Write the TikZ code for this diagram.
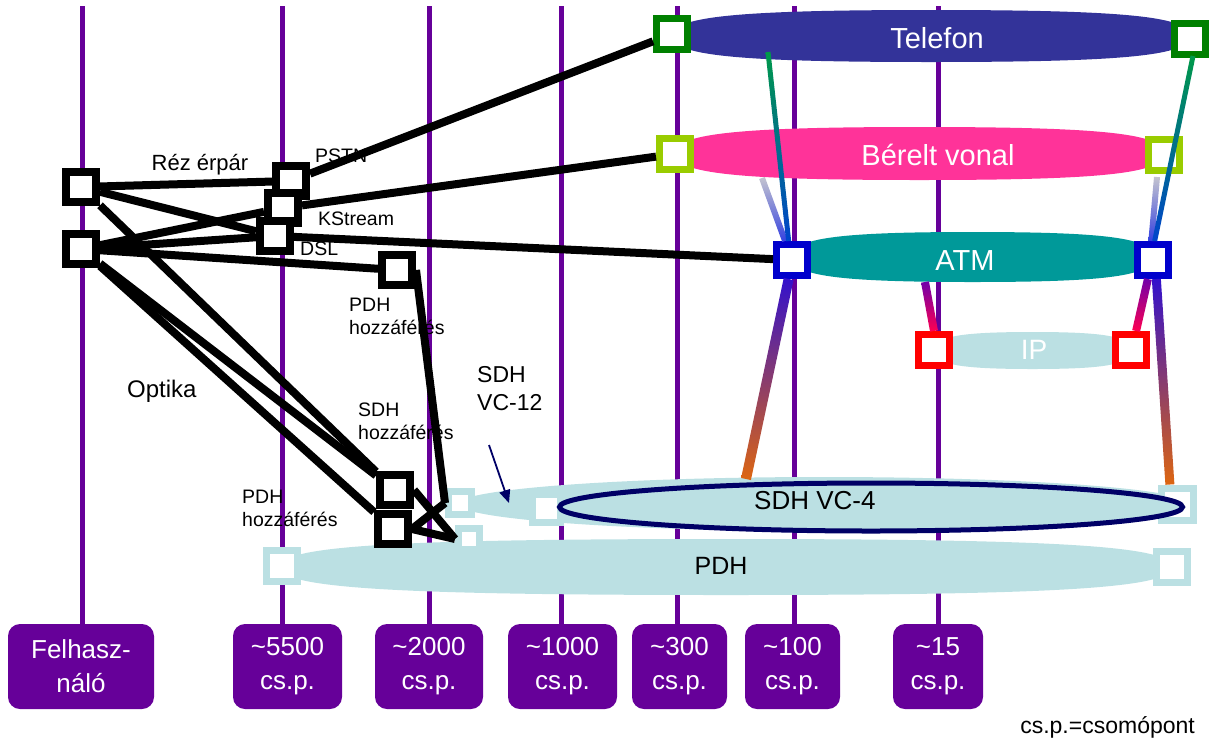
\documentclass[tikz,border=0pt]{standalone}
\usepackage{fontspec}
\setmainfont{Liberation Sans}
\usetikzlibrary{arrows.meta,calc,shapes.geometric}

\definecolor{levelviolet}{HTML}{660099}
\definecolor{telblue}{HTML}{333399}
\definecolor{leasedpink}{HTML}{FF3399}
\definecolor{atmteal}{HTML}{009999}
\definecolor{paleblue}{HTML}{BBE0E3}
\definecolor{navy}{HTML}{000066}
\definecolor{sqgreen}{HTML}{008000}
\definecolor{sqlime}{HTML}{99CC00}
\definecolor{sqblue}{HTML}{0000CC}
\definecolor{sqred}{HTML}{FF0000}
\definecolor{bargreen}{HTML}{00994A}
\definecolor{barblue}{HTML}{0044CC}
\definecolor{bargray}{HTML}{C4C4D0}
\definecolor{barviolet}{HTML}{3340E0}
\definecolor{sdhtop}{HTML}{3311CC}
\definecolor{sdhbottom}{HTML}{DD6611}
\definecolor{iptop}{HTML}{7000AA}
\definecolor{ipbottom}{HTML}{FF0050}

\newcommand{\fsz}[2]{\fontsize{#1}{#2}\selectfont}

% band between x=#2 and x=#3, centre line y=#4, half height #5
\newcommand{\lens}[5]{%
  \pgfmathsetmacro\lensa{(#3-#2)/2}%
  \fill[#1] (#2,#4)
    .. controls (#2,{#4-0.75*#5}) and ({#2+0.25*\lensa},{#4-#5}) .. ({#2+\lensa},{#4-#5})
    .. controls ({#3-0.25*\lensa},{#4-#5}) and (#3,{#4-0.75*#5}) .. (#3,#4)
    .. controls (#3,{#4+0.75*#5}) and ({#3-0.25*\lensa},{#4+#5}) .. ({#2+\lensa},{#4+#5})
    .. controls ({#2+0.25*\lensa},{#4+#5}) and (#2,{#4+0.75*#5}) .. cycle;}

% shaded bar from #1 to #2, half width #3
\newcommand{\gbar}[5]{%
  \shade[top color=#4, bottom color=#5]
    ($(#1)!#3!90:(#2)$) -- ($(#2)!#3!-90:(#1)$) -- ($(#2)!#3!90:(#1)$) -- ($(#1)!#3!-90:(#2)$) -- cycle;}

\begin{document}
\begin{tikzpicture}[x=1pt, y=-1pt,
  level/.style={fill=levelviolet, rounded corners=12pt, text=white, align=center,
    font=\fsz{26}{34}, minimum height=85pt, inner sep=0pt},
  stage/.style={draw=levelviolet, line width=5pt},
  sq/.style={draw=#1, fill=white, line width=7pt, inner sep=0pt, minimum size=31pt},
  usersq/.style={draw=black, fill=white, line width=8pt, inner sep=0pt, minimum size=30pt},
  wire/.style={draw=black, line width=8pt},
  bandtext/.style={text=white, font=\fsz{29}{34}, inner sep=0pt},
  lbl/.style={font=\fsz{19.5}{22.5}, align=left, inner sep=0pt},
  biglbl/.style={font=\fsz{23}{28}, align=left, inner sep=0pt}
]
\useasboundingbox (0,0) rectangle (1216,740);

% node counts
\foreach \name/\x/\w/\txt in {
    fel/81/146/{Felhasz-\\náló},
    lv5500/287.5/109/{\textasciitilde5500\\cs.p.},
    lv2000/429/108/{\textasciitilde2000\\cs.p.},
    lv1000/562.5/109/{\textasciitilde1000\\cs.p.},
    lv300/679.5/95/{\textasciitilde300\\cs.p.},
    lv100/792.5/95/{\textasciitilde100\\cs.p.},
    lv15/938/90/{\textasciitilde15\\cs.p.}}
  \node[level, minimum width=\w pt] (\name) at (\x,666.5) {\txt};
\foreach \name/\x in {fel/82, lv5500/282, lv2000/429, lv1000/561, lv300/677, lv100/794, lv15/938}
  \draw[stage] (\x,6) coordinate (top-\name) -- (top-\name |- \name.north);

% networks
\lens{telblue}{672}{1190}{36}{26}
\lens{leasedpink}{675}{1164}{153.5}{26.5}
\lens{atmteal}{792}{1153}{257}{25}
\lens{paleblue}{934}{1131}{350.5}{18.5}
\lens{paleblue}{280}{1172}{567}{28}
\fill[paleblue] (824,504) ellipse [x radius=366, y radius=27];

\node[sq=paleblue, minimum size=23pt] (sdhS1) at (460,503) {};
\node[sq=paleblue, minimum size=28pt] (sdhS2) at (546,508) {};
\node[sq=paleblue, minimum size=32pt] (sdhR) at (1177,504) {};
\node[ellipse, draw=navy, line width=5pt, fill=paleblue, inner sep=0pt,
  minimum width=623pt, minimum height=48pt] (vcfour) at (871,507) {};
\node[sq=paleblue, minimum size=21pt] (pdhS) at (469,539) {};
\node[sq=paleblue] (pdhL) at (282,566) {};
\node[sq=paleblue] (pdhR) at (1172,567) {};

\node[sq=sqgreen] (telL) at (672,34) {};
\node[sq=sqgreen] (telR) at (1190,39) {};
\node[sq=sqlime] (bvL) at (675,154) {};
\node[sq=sqlime] (bvR) at (1164,155) {};
\node[sq=sqblue] (atmL) at (792,260) {};
\node[sq=sqblue] (atmR) at (1153,260) {};
\node[sq=sqred] (ipL) at (934,350) {};
\node[sq=sqred] (ipR) at (1131,350) {};

\node[bandtext, anchor=base] (telefontxt) at (937,48) {Telefon};
\node[bandtext, anchor=base] (berelttxt) at (938,165) {Bérelt vonal};
\node[bandtext, anchor=base] (atmtxt) at (965,270) {ATM};
\node[bandtext, anchor=base, font=\fsz{28}{34}] (iptxt) at (1034,359) {IP};
\node[inner sep=0pt, font=\fsz{26}{30}, anchor=base west] (vcfourtxt) at (754,509) {SDH VC-4};
\node[inner sep=0pt, font=\fsz{25}{30}, anchor=base] (pdhtxt) at (721,574) {PDH};

% access
\node[usersq] (u1) at (81,187) {};
\node[usersq] (u2) at (81,249) {};
\node[usersq] (pstn) at (291,181) {};
\node[usersq] (kstream) at (283,208) {};
\node[usersq] (dsl) at (275,236) {};
\node[usersq] (pdhacc) at (397,270) {};
\node[usersq] (sdhacc) at (395,490) {};
\node[usersq] (pdhacc2) at (393,529) {};

\draw[wire] (u1) -- (pstn);
\draw[wire] (u1) -- (dsl);
\draw[wire] (u1) -- (sdhacc);
\draw[wire] (u2) -- (kstream);
\draw[wire] (u2) -- (dsl);
\draw[wire] (u2) -- (pdhacc);
\draw[wire] (u2) -- (sdhacc);
\draw[wire] (u2) -- (pdhacc2);
\draw[wire] (pstn) -- (telL);
\draw[wire] (kstream) -- (bvL);
\draw[wire] (dsl) -- (atmL);
\draw[wire] (pdhacc.east) -- (sdhS1.west);
\draw[wire] (sdhacc.east) -- (pdhS.west);
\draw[wire] (pdhacc2.east) -- (sdhS1.west);
\draw[wire] (pdhacc2.east) -- (pdhS.west);

% layer links
\coordinate (telfootL) at (768,52);
\coordinate (bvfootL) at (762,178);
\coordinate (telfootR) at (1193,56);
\coordinate (bvfootR) at (1157,177);
\coordinate (vcfourtop) at (746,479);
\coordinate (atmfoot) at (925,282);
\gbar{bvfootL}{atmL.110}{3pt}{bargray}{barviolet}
\gbar{telfootL}{atmL.100}{2.5pt}{bargreen}{barblue}
\gbar{bvfootR}{atmR.95}{3pt}{bargray}{barviolet}
\gbar{telfootR}{atmR.85}{2.5pt}{bargreen}{barblue}
\gbar{atmL.-100}{vcfourtop}{5pt}{sdhtop}{sdhbottom}
\gbar{atmR.-80}{sdhR.110}{4.5pt}{sdhtop}{sdhbottom}
\gbar{atmfoot}{ipL.north}{4pt}{iptop}{ipbottom}
\gbar{atmR.-105}{ipR.75}{4pt}{iptop}{ipbottom}

% labels
\node[inner sep=0pt, font=\fsz{22}{26}, anchor=base] (rez) at (200,170) {Réz érpár};
\node[lbl, anchor=base west] (pstntxt) at (315,162) {PSTN};
\node[lbl, anchor=base west] (kstreamtxt) at (318,225) {KStream};
\node[lbl, anchor=base west] (dsltxt) at (300,255) {DSL};
\node[lbl, anchor=north west] (pdhacctxt) at (349,298) {PDH\\hozzáférés};
\node[lbl, anchor=north west] (sdhacctxt) at (358,403) {SDH\\hozzáférés};
\node[lbl, anchor=north west] (pdhacc2txt) at (242,490) {PDH\\hozzáférés};
\node[inner sep=0pt, font=\fsz{24}{28}, anchor=base west] (optika) at (127,397) {Optika};
\node[biglbl, anchor=north west] (vc12txt) at (477,366) {SDH\\VC-12};
\coordinate (vc12from) at (489,445);
\coordinate (vc12to) at (509,503);
\draw[navy, line width=1.8pt, -{Triangle[length=13pt, width=11pt]}] (vc12from) -- (vc12to);
\node[inner sep=0pt, font=\fsz{23}{28}, anchor=base east] (legend) at (1195,733) {cs.p.=csomópont};
\end{tikzpicture}
\end{document}
